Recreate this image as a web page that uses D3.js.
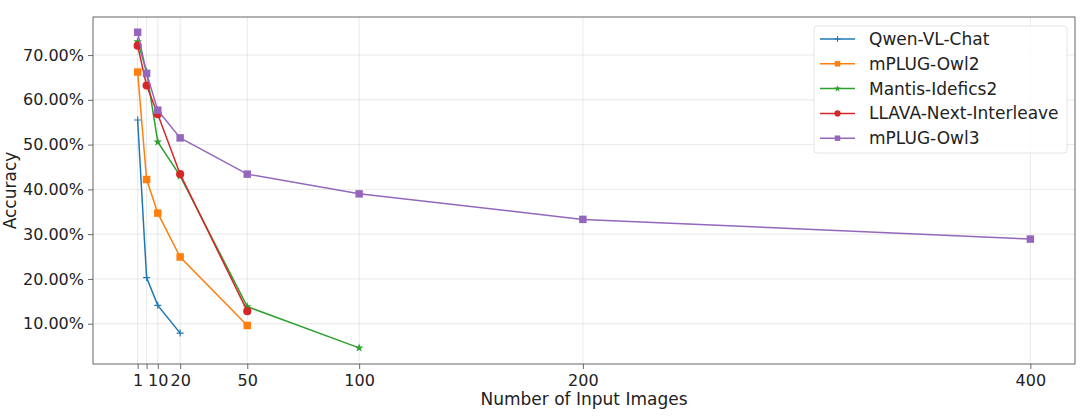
<!DOCTYPE html>
<html><head><meta charset="utf-8">
<script src="https://cdn.jsdelivr.net/npm/d3@7"></script>
<style>body{margin:0;background:#fff}svg{display:block;font-family:"DejaVu Sans",sans-serif}</style>
</head><body><svg id="c" width="1080" height="417"></svg>
<script>
const xTicks = [1, 5, 10, 20, 50, 100, 200, 400];
const xTickLabels = ["1", "", "10", "20", "50", "100", "200", "400"];
const yTicks = [0.1, 0.2, 0.3, 0.4, 0.5, 0.6, 0.7];
const seriesNames = ["Qwen-VL-Chat", "mPLUG-Owl2", "Mantis-Idefics2", "LLAVA-Next-Interleave", "mPLUG-Owl3"];
const qwenX = [1, 5, 10, 20];
const qwenY = [0.555, 0.203, 0.141, 0.079];
const owl2X = [1, 5, 10, 20, 50];
const owl2Y = [0.662, 0.422, 0.347, 0.249, 0.096];
const mantisX = [1, 5, 10, 20, 50, 100];
const mantisY = [0.730, 0.663, 0.506, 0.430, 0.138, 0.046];
const llavaX = [1, 5, 10, 20, 50];
const llavaY = [0.721, 0.632, 0.568, 0.434, 0.128];
const owl3X = [1, 5, 10, 20, 50, 100, 200, 400];
const owl3Y = [0.751, 0.659, 0.577, 0.515, 0.434, 0.390, 0.333, 0.289];
const colors = ["#1f77b4", "#ff7f0e", "#2ca02c", "#d62728", "#9467bd"];
const markers = ["plus", "square", "star", "circle", "square"];

const series = [
  {x: qwenX, y: qwenY}, {x: owl2X, y: owl2Y}, {x: mantisX, y: mantisY},
  {x: llavaX, y: llavaY}, {x: owl3X, y: owl3Y}
].map((s, i) => ({name: seriesNames[i], color: colors[i], marker: markers[i],
  pts: s.x.map((v, j) => [v, s.y[j]])}));

const L = 93, R = 1075, T = 17, B = 364;
const svg = d3.select("#c");
const x = d3.scaleLinear().domain([-18.95, 419.95]).range([L, R]);
const y = d3.scaleLinear().domain([0.01, 0.785]).range([B, T]);

// grid
const g = svg.append("g");
g.selectAll(".gx").data(xTicks).join("line")
  .attr("x1", d => x(d)).attr("x2", d => x(d)).attr("y1", T).attr("y2", B)
  .attr("stroke", "#b0b0b0").attr("stroke-opacity", 0.35).attr("stroke-width", 0.8);
g.selectAll(".gy").data(yTicks).join("line")
  .attr("y1", d => y(d)).attr("y2", d => y(d)).attr("x1", L).attr("x2", R)
  .attr("stroke", "#b0b0b0").attr("stroke-opacity", 0.35).attr("stroke-width", 0.8);

// axes
const xAxis = d3.axisBottom(x).tickValues(xTicks).tickFormat((d, i) => xTickLabels[i]).tickSize(5).tickPadding(3);
const yAxis = d3.axisLeft(y).tickValues(yTicks).tickFormat(d3.format(".2%")).tickSize(5).tickPadding(4);
const ax = svg.append("g").attr("transform", `translate(0,${B})`).call(xAxis);
const ay = svg.append("g").attr("transform", `translate(${L},0)`).call(yAxis);
[ax, ay].forEach(a => {
  a.select(".domain").remove();
  a.selectAll(".tick line").attr("stroke", "#444").attr("stroke-width", 0.8);
  a.selectAll("text").attr("font-size", 16).attr("fill", "#222").attr("font-family", "DejaVu Sans");
});
ax.selectAll("text").attr("dy", "0.85em");

// lines
const line = d3.line().x(d => x(d[0])).y(d => y(d[1]));
const sym = {
  square: d3.symbol().type(d3.symbolSquare).size(56),
  circle: d3.symbol().type(d3.symbolCircle).size(52),
  star: d3.symbol().type(d3.symbolStar).size(24),
  plus: d3.symbol().type(d3.symbolCross).size(10)
};
series.forEach(s => {
  svg.append("path").attr("d", line(s.pts)).attr("fill", "none")
    .attr("stroke", s.color).attr("stroke-width", 1.5);
  svg.selectAll(null).data(s.pts).join("path")
    .attr("transform", d => `translate(${x(d[0])},${y(d[1])})`)
    .attr("d", s.marker === "plus" ? "M-3.5,0H3.5M0,-3.5V3.5" : sym[s.marker]())
    .attr("fill", s.marker === "plus" ? "none" : s.color)
    .attr("stroke", s.color).attr("stroke-width", s.marker === "plus" ? 1.2 : 0);
});

// frame
svg.append("rect").attr("x", L).attr("y", T).attr("width", R - L).attr("height", B - T)
  .attr("fill", "none").attr("stroke", "#555").attr("stroke-width", 0.9);

// axis labels
svg.append("text").attr("x", (L + R) / 2).attr("y", 405).attr("text-anchor", "middle")
  .attr("font-size", 17).attr("fill", "#222").text("Number of Input Images");
svg.append("text").attr("transform", `translate(16,${(T + B) / 2}) rotate(-90)`)
  .attr("text-anchor", "middle").attr("font-size", 17).attr("fill", "#222").text("Accuracy");

// legend
const lg = svg.append("g");
lg.append("rect").attr("x", 814).attr("y", 26).attr("width", 253).attr("height", 127)
  .attr("rx", 3).attr("fill", "#fff").attr("fill-opacity", 0.85).attr("stroke", "#ddd").attr("stroke-width", 0.8);
series.forEach((s, i) => {
  const yy = 39 + i * 24.8;
  lg.append("line").attr("x1", 820).attr("x2", 855).attr("y1", yy).attr("y2", yy)
    .attr("stroke", s.color).attr("stroke-width", 1.5);
  lg.append("path").attr("transform", `translate(837.5,${yy})`)
    .attr("d", s.marker === "plus" ? "M-3,0H3M0,-3V3" :
      d3.symbol().type(s.marker === "square" ? d3.symbolSquare : s.marker === "circle" ? d3.symbolCircle : d3.symbolStar)
        .size(s.marker === "star" ? 14 : 30)())
    .attr("fill", s.marker === "plus" ? "none" : s.color).attr("stroke", s.color)
    .attr("stroke-width", s.marker === "plus" ? 1 : 0);
  lg.append("text").attr("x", 869).attr("y", yy).attr("dy", "0.35em")
    .attr("font-size", 17).attr("fill", "#222").text(s.name);
});
</script></body></html>
